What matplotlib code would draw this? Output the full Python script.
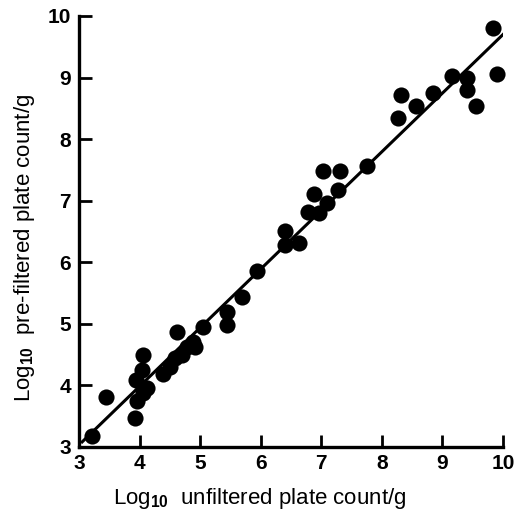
import numpy as np
import matplotlib
matplotlib.use("Agg")
import matplotlib.pyplot as plt

plt.rcParams['font.family'] = ['Liberation Sans', 'DejaVu Sans']
plt.rcParams['mathtext.fontset'] = 'custom'
plt.rcParams['mathtext.rm'] = 'Liberation Sans'
plt.rcParams['mathtext.bf'] = 'Liberation Sans:bold'

# log10 counts
x_unfiltered = [3.22, 3.44, 3.93, 3.94, 3.96, 4.06, 4.04, 4.12, 4.06, 4.39,
                4.50, 4.58, 4.61, 4.70, 4.78, 4.88, 4.91, 5.05, 5.44, 5.44,
                5.69, 5.94, 6.40, 6.40, 6.63, 6.78, 6.88, 6.96, 7.10, 7.03,
                7.30, 7.28, 7.75, 8.27, 8.32, 8.56, 8.84, 9.15, 9.40, 9.40,
                9.56, 9.84, 9.90]
y_prefiltered = [3.18, 3.81, 3.47, 4.09, 3.75, 3.88, 4.25, 3.96, 4.49, 4.19,
                 4.29, 4.44, 4.87, 4.49, 4.62, 4.71, 4.62, 4.95, 5.19, 4.98,
                 5.44, 5.85, 6.51, 6.28, 6.32, 6.81, 7.11, 6.80, 6.96, 7.48,
                 7.48, 7.17, 7.57, 8.34, 8.71, 8.54, 8.75, 9.03, 9.00, 8.79,
                 8.54, 9.80, 9.05]

# regression line end points
line_x = [3.05, 10.0]
line_y = [3.08, 9.70]

ticks = [3, 4, 5, 6, 7, 8, 9, 10]

fig = plt.figure(figsize=(5.17, 5.16), dpi=100)
ax = fig.add_axes([0.153, 0.134, 0.820, 0.835])

ax.plot(line_x, line_y, color='black', lw=2.2, zorder=2)
ax.scatter(x_unfiltered, y_prefiltered, s=135, color='black', zorder=3,
           clip_on=False, linewidths=0)

ax.set_xlim(3, 10)
ax.set_ylim(3, 10)
ax.set_xticks(ticks)
ax.set_yticks(ticks)
for s in ['top', 'right']:
    ax.spines[s].set_visible(False)
for s in ['left', 'bottom']:
    ax.spines[s].set_linewidth(2.4)
ax.tick_params(direction='in', length=9, width=2, labelsize=15)
ax.tick_params(axis='x', pad=5)
ax.tick_params(axis='y', pad=6)
for lab in ax.get_xticklabels() + ax.get_yticklabels():
    lab.set_fontweight('bold')

ax.set_xlabel(r'Log$_{\mathbf{10}}$  unfiltered plate count/g', fontsize=16)
ax.xaxis.set_label_coords(0.427, -0.092)
ax.set_ylabel(r'Log$_{\mathbf{10}}$  pre-filtered plate count/g', fontsize=16)
ax.yaxis.set_label_coords(-0.10, 0.462)

fig.savefig('out.png', dpi=100)
